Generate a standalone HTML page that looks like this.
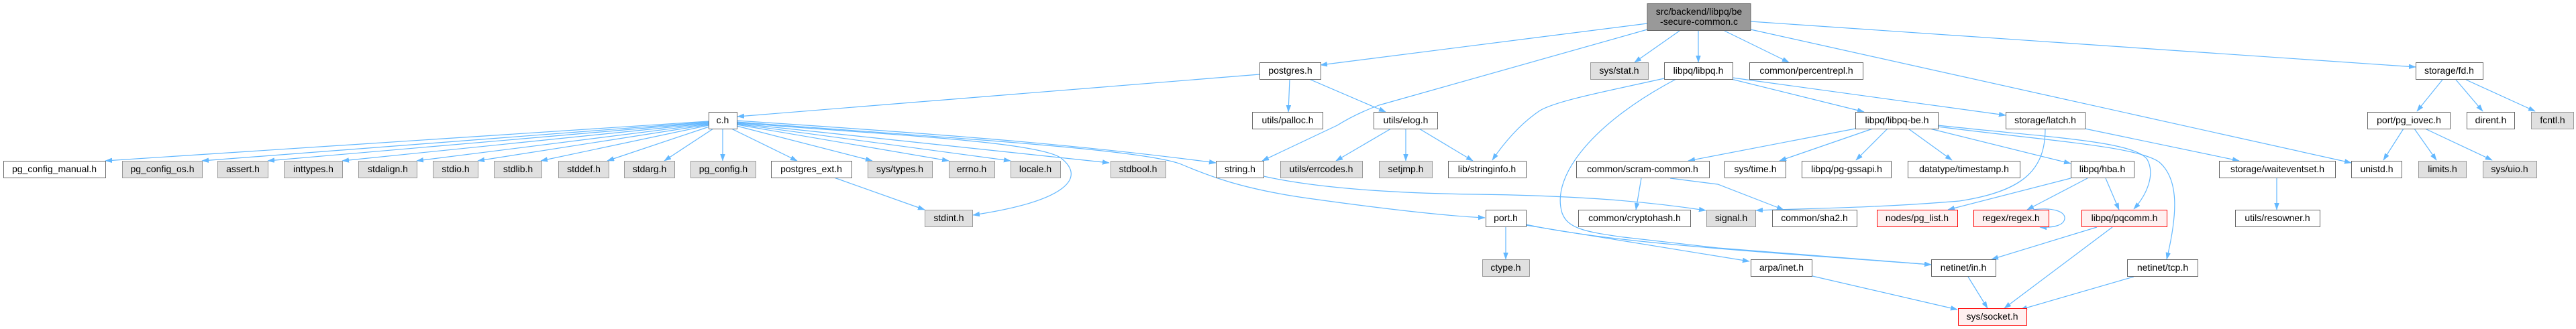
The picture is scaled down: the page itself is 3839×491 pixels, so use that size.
<!DOCTYPE html>
<html><head><meta charset="utf-8"><style>
html,body{margin:0;padding:0;background:#fff;}
svg{display:block;}
text{font-family:"Liberation Sans",sans-serif;font-size:14px;fill:#000;text-anchor:middle;}
.e{fill:none;stroke:#63b8ff;stroke-width:1.2;}
.w{fill:#fff;stroke:#666;stroke-width:1;}
.g{fill:#e0e0e0;stroke:#999;stroke-width:1;}
.r{fill:#fff0f0;stroke:#ff0000;stroke-width:1;}
.m{fill:#999;stroke:#666;stroke-width:1;}
</style></head><body>
<svg width="3839" height="491" viewBox="0 0 3839 491" xmlns="http://www.w3.org/2000/svg">
<defs>
<marker id="a" markerUnits="userSpaceOnUse" markerWidth="11" markerHeight="8" refX="10" refY="3.5" orient="auto">
<path d="M0,0 L10,3.5 L0,7 z" fill="#63b8ff" stroke="#63b8ff" stroke-width="0.5"/>
</marker>
</defs>
<g class="e" marker-end="url(#a)">
<!-- main -->
<path d="M2455,35 L1968,97"/>
<path d="M2455,44 L2055,157 Q2020,170 1993,187 L1881,240"/>
<path d="M2503,46 L2436,93"/>
<path d="M2531,46 L2531,93"/>
<path d="M2570,46 L2666,93"/>
<path d="M2609,32 L3600,100"/>
<path d="M2609,44 L3504,243"/>
<!-- postgres.h -->
<path d="M1877,111 L1099,174"/>
<path d="M1922,118 L1920,167"/>
<path d="M1951,118 L2065,167"/>
<!-- elog -->
<path d="M2073,192 L1991,240"/>
<path d="M2095,192 L2095,240"/>
<path d="M2115,192 L2195,240"/>
<!-- libpq.h -->
<path d="M2480,117 C2400,135 2320,150 2295,165 C2265,185 2240,215 2224,239"/>
<path d="M2498,118 C2380,180 2310,260 2328,318 C2336,340 2360,346 2420,354 L2560,370 L2878,395"/>
<path d="M2580,118 L2778,167"/>
<path d="M2582,116 L2989,172"/>
<!-- libpq-be -->
<path d="M2765,192 L2516,240"/>
<path d="M2791,192 L2652,240"/>
<path d="M2813,192 L2766,239"/>
<path d="M2844,192 L2909,239"/>
<path d="M2876,192 L3086,244"/>
<path d="M2888,187 C3050,205 3180,210 3200,238 C3212,260 3200,290 3180,312"/>
<path d="M2888,189 C3050,210 3185,218 3218,242 C3248,268 3245,320 3229,387"/>
<!-- latch -->
<path d="M3048,192 C3048,250 3020,285 2920,300 C2800,310 2700,311 2617,314"/>
<path d="M3107,192 L3337,240"/>
<!-- string.h -->
<path d="M1883,263 C1950,278 2050,288 2200,290 C2350,292 2450,300 2542,314"/>
<!-- c.h -->
<path d="M1056,181 L157,240"/>
<path d="M1056,182 L301,240"/>
<path d="M1056,183 L399,240"/>
<path d="M1056,184 L510,240"/>
<path d="M1056,185 L621,240"/>
<path d="M1056,186 L712,240"/>
<path d="M1056,187 L806,240"/>
<path d="M1057,189 L905,240"/>
<path d="M1063,192 L990,240"/>
<path d="M1077,192 L1077,240"/>
<path d="M1090,192 L1188,240"/>
<path d="M1098,188 L1300,240"/>
<path d="M1098,186 L1414,240"/>
<path d="M1098,185 L1506,240"/>
<path d="M1098,184 L1653,243"/>
<path d="M1098,180 C1400,200 1600,215 1812,243"/>
<path d="M1098,183 C1300,200 1540,210 1580,235 C1620,265 1590,300 1450,321"/>
<path d="M1098,182 C1400,205 1700,222 1760,245 C1800,262 1850,282 1950,296 C2050,310 2150,322 2213,325"/>
<path d="M1243,265 L1378,313"/>
<!-- port.h -->
<path d="M2244,339 L2244,387"/>
<path d="M2274,336 L2607,390"/>
<path d="M2274,335 C2400,362 2600,374 2878,395"/>
<!-- scram -->
<path d="M2446,266 L2438,313"/>
<path d="M2489,266 L2560,275 L2658,313"/>
<!-- hba -->
<path d="M3086,266 L2903,313"/>
<path d="M3111,266 L3021,313"/>
<path d="M3138,266 L3158,313"/>
<path d="M3030,313 C3060,309 3078,316 3077,326 C3076,336 3062,340 3040,339"/>
<!-- pqcomm -->
<path d="M3125,339 L2968,387"/>
<path d="M3148,339 L2987,460"/>
<path d="M2933,413 L2962,460"/>
<path d="M2701,412 L2917,462"/>
<path d="M3180,413 L3011,462"/>
<!-- fd.h -->
<path d="M3640,119 L3602,166"/>
<path d="M3660,119 L3700,166"/>
<path d="M3675,119 L3778,166"/>
<path d="M3582,192 L3552,239"/>
<path d="M3598,192 L3631,239"/>
<path d="M3614,192 L3714,239"/>
<path d="M3393,266 L3393,313"/>
</g>

<!-- nodes -->
<rect class="m" x="2455" y="5.5" width="154" height="40"/>
<text x="2532" y="22">src/backend/libpq/be</text>
<text x="2532" y="37">-secure-common.c</text>

<g>
<!-- row1 y=93 -->
<rect class="w" x="1877.5" y="93.5" width="91" height="25"/><text x="1923" y="110">postgres.h</text>
<rect class="g" x="2370.5" y="93.5" width="86" height="25"/><text x="2413" y="110">sys/stat.h</text>
<rect class="w" x="2480.5" y="93.5" width="102" height="25"/><text x="2531" y="110">libpq/libpq.h</text>
<rect class="w" x="2607.5" y="93.5" width="169" height="25"/><text x="2692" y="110">common/percentrepl.h</text>
<rect class="w" x="3600.5" y="93.5" width="100" height="25"/><text x="3650" y="110">storage/fd.h</text>

<!-- row2 y=167 -->
<rect class="w" x="1056.5" y="167.5" width="42" height="25"/><text x="1077" y="184">c.h</text>
<rect class="w" x="1866.5" y="167.5" width="105" height="25"/><text x="1919" y="184">utils/palloc.h</text>
<rect class="w" x="2047.5" y="167.5" width="95" height="25"/><text x="2095" y="184">utils/elog.h</text>
<rect class="w" x="2765.5" y="167.5" width="123" height="25"/><text x="2827" y="184">libpq/libpq-be.h</text>
<rect class="w" x="2989.5" y="167.5" width="118" height="25"/><text x="3048" y="184">storage/latch.h</text>
<rect class="w" x="3528.5" y="167.5" width="123" height="25"/><text x="3590" y="184">port/pg_iovec.h</text>
<rect class="w" x="3676.5" y="167.5" width="71" height="25"/><text x="3712" y="184">dirent.h</text>
<rect class="g" x="3772.5" y="167.5" width="63" height="25"/><text x="3804" y="184">fcntl.h</text>

<!-- row3 y=240 -->
<rect class="w" x="5.5" y="240.5" width="152" height="25"/><text x="81" y="257">pg_config_manual.h</text>
<rect class="g" x="182.5" y="240.5" width="119" height="25"/><text x="242" y="257">pg_config_os.h</text>
<rect class="g" x="324.5" y="240.5" width="75" height="25"/><text x="362" y="257">assert.h</text>
<rect class="g" x="423.5" y="240.5" width="87" height="25"/><text x="467" y="257">inttypes.h</text>
<rect class="g" x="534.5" y="240.5" width="87" height="25"/><text x="578" y="257">stdalign.h</text>
<rect class="g" x="645.5" y="240.5" width="67" height="25"/><text x="679" y="257">stdio.h</text>
<rect class="g" x="736.5" y="240.5" width="71" height="25"/><text x="772" y="257">stdlib.h</text>
<rect class="g" x="832.5" y="240.5" width="75" height="25"/><text x="870" y="257">stddef.h</text>
<rect class="g" x="930.5" y="240.5" width="75" height="25"/><text x="968" y="257">stdarg.h</text>
<rect class="g" x="1029.5" y="240.5" width="97" height="25"/><text x="1078" y="257">pg_config.h</text>
<rect class="w" x="1149.5" y="240.5" width="120" height="25"/><text x="1209" y="257">postgres_ext.h</text>
<rect class="g" x="1293.5" y="240.5" width="96" height="25"/><text x="1341" y="257">sys/types.h</text>
<rect class="g" x="1414.5" y="240.5" width="68" height="25"/><text x="1448" y="257">errno.h</text>
<rect class="g" x="1506.5" y="240.5" width="74" height="25"/><text x="1543" y="257">locale.h</text>
<rect class="g" x="1655.5" y="240.5" width="82" height="25"/><text x="1696" y="257">stdbool.h</text>
<rect class="w" x="1812.5" y="240.5" width="71" height="25"/><text x="1848" y="257">string.h</text>
<rect class="g" x="1908.5" y="240.5" width="122" height="25"/><text x="1969" y="257">utils/errcodes.h</text>
<rect class="g" x="2055.5" y="240.5" width="79" height="25"/><text x="2095" y="257">setjmp.h</text>
<rect class="w" x="2158.5" y="240.5" width="116" height="25"/><text x="2216" y="257">lib/stringinfo.h</text>
<rect class="w" x="2349.5" y="240.5" width="198" height="25"/><text x="2448" y="257">common/scram-common.h</text>
<rect class="w" x="2570.5" y="240.5" width="91" height="25"/><text x="2616" y="257">sys/time.h</text>
<rect class="w" x="2685.5" y="240.5" width="133" height="25"/><text x="2752" y="257">libpq/pg-gssapi.h</text>
<rect class="w" x="2843.5" y="240.5" width="167" height="25"/><text x="2927" y="257">datatype/timestamp.h</text>
<rect class="w" x="3086.5" y="240.5" width="94" height="25"/><text x="3133" y="257">libpq/hba.h</text>
<rect class="w" x="3307.5" y="240.5" width="173" height="25"/><text x="3394" y="257">storage/waiteventset.h</text>
<rect class="w" x="3504.5" y="240.5" width="75" height="25"/><text x="3542" y="257">unistd.h</text>
<rect class="g" x="3604.5" y="240.5" width="71" height="25"/><text x="3640" y="257">limits.h</text>
<rect class="g" x="3700.5" y="240.5" width="80" height="25"/><text x="3740" y="257">sys/uio.h</text>

<!-- row4 y=313 -->
<rect class="g" x="1378.5" y="313.5" width="71" height="25"/><text x="1414" y="330">stdint.h</text>
<rect class="w" x="2214.5" y="313.5" width="60" height="25"/><text x="2244" y="330">port.h</text>
<rect class="w" x="2352.5" y="313.5" width="167" height="25"/><text x="2436" y="330">common/cryptohash.h</text>
<rect class="g" x="2543.5" y="313.5" width="73" height="25"/><text x="2580" y="330">signal.h</text>
<rect class="w" x="2641.5" y="313.5" width="126" height="25"/><text x="2704" y="330">common/sha2.h</text>
<rect class="r" x="2797.5" y="313.5" width="120" height="25"/><text x="2857" y="330">nodes/pg_list.h</text>
<rect class="r" x="2941.5" y="313.5" width="112" height="25"/><text x="2997" y="330">regex/regex.h</text>
<rect class="r" x="3102.5" y="313.5" width="127" height="25"/><text x="3166" y="330">libpq/pqcomm.h</text>
<rect class="w" x="3331.5" y="313.5" width="126" height="25"/><text x="3394" y="330">utils/resowner.h</text>

<!-- row5 y=387 -->
<rect class="g" x="2209.5" y="387.5" width="70" height="25"/><text x="2244" y="404">ctype.h</text>
<rect class="w" x="2609.5" y="387.5" width="91" height="25"/><text x="2655" y="404">arpa/inet.h</text>
<rect class="w" x="2878.5" y="387.5" width="96" height="25"/><text x="2926" y="404">netinet/in.h</text>
<rect class="w" x="3170.5" y="387.5" width="105" height="25"/><text x="3223" y="404">netinet/tcp.h</text>

<!-- row6 y=460 -->
<rect class="r" x="2918.5" y="460.5" width="102" height="25"/><text x="2969" y="477">sys/socket.h</text>
</g>
</svg>
</body></html>
